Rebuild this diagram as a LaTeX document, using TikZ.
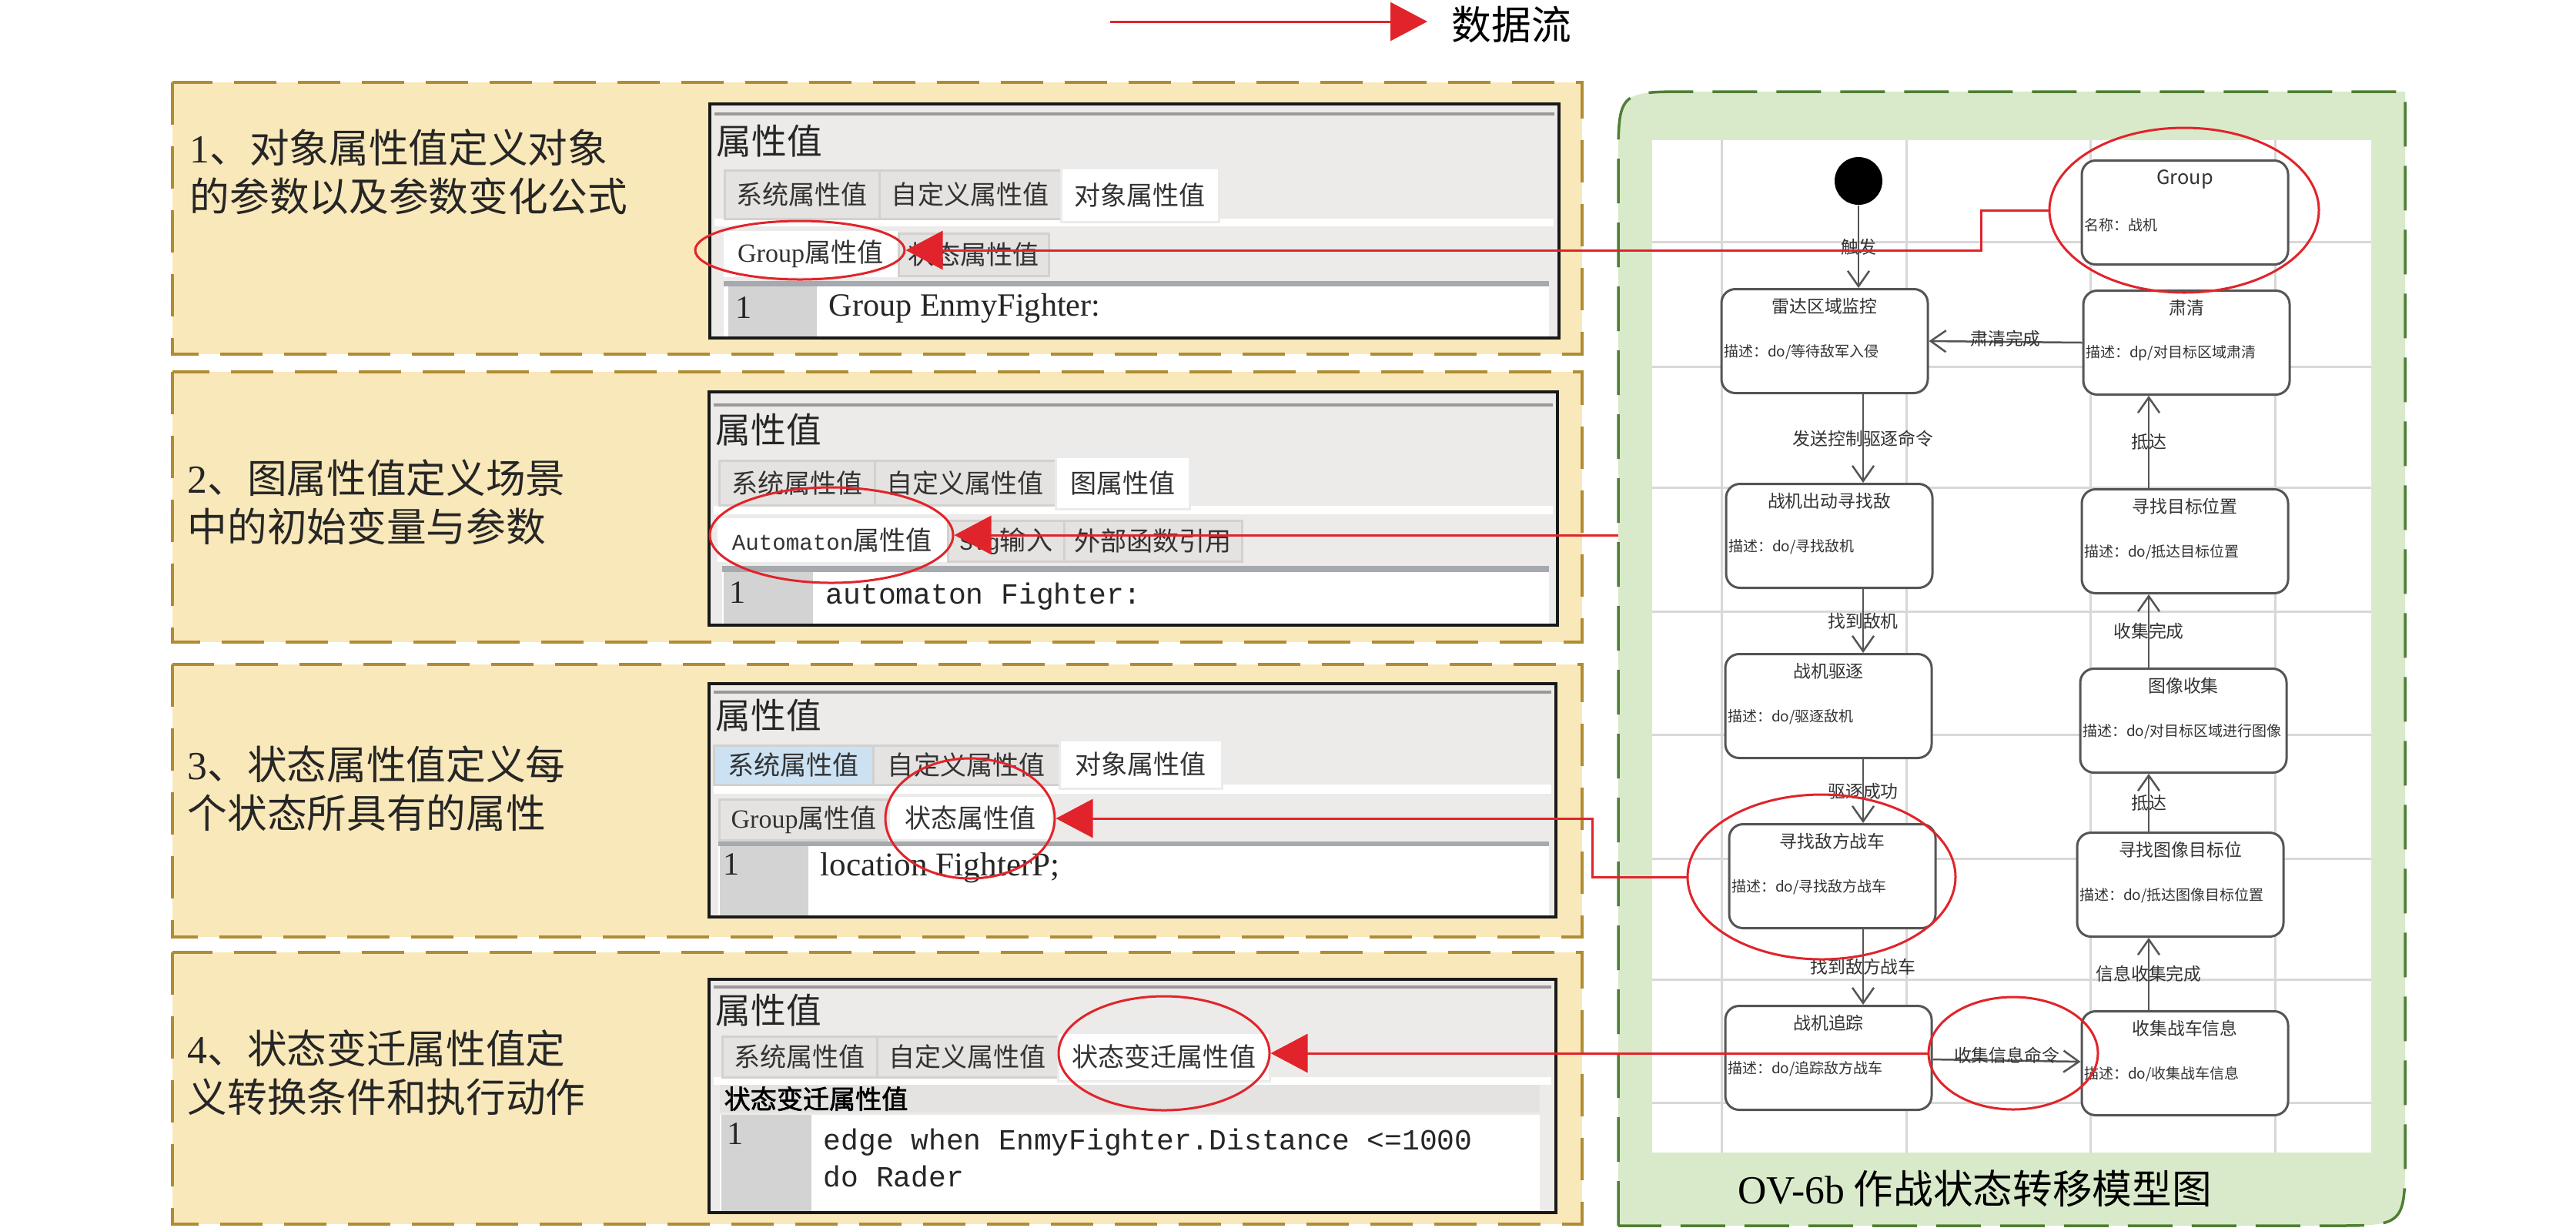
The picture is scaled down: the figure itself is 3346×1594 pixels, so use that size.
\documentclass[tikz,border=0pt]{standalone}
\usepackage{fontspec}
\setmainfont{Noto Sans CJK SC}
\newfontfamily\tms{Liberation Serif}
\newfontfamily\mono{Liberation Mono}
\newfontfamily\zhbold[FakeBold=2]{Noto Sans CJK SC}
\usetikzlibrary{positioning,arrows.meta,shapes.geometric}

\definecolor{wheat}{HTML}{F9E8B9}
\definecolor{wheatline}{HTML}{B08C33}
\definecolor{ovfill}{HTML}{D9EACB}
\definecolor{ovline}{HTML}{4F7F35}
\definecolor{flowred}{HTML}{E1242B}
\definecolor{shotbg}{HTML}{ECEBE9}
\definecolor{tabbg}{HTML}{E4E3E1}
\definecolor{tabline}{HTML}{D2D1CF}
\definecolor{hover}{HTML}{CCE2F3}
\definecolor{gutter}{HTML}{D3D3D3}
\definecolor{codebar}{HTML}{A6A9AE}
\definecolor{stline}{HTML}{555555}
\definecolor{gridline}{HTML}{D8D8D8}

\begin{document}
\begin{tikzpicture}[x=0.1mm,y=-0.1mm,
  panel/.style={fill=wheat,draw=wheatline,line width=0.35mm,dash pattern=on 5.5mm off 2.8mm},
  big/.style={font=\fontsize{14.7}{18}\selectfont,align=left,anchor=west,inner sep=0,text=black!85},
  shot/.style={fill=shotbg,draw=black!90,line width=0.4mm},
  topline/.style={draw=black!40,line width=0.4mm},
  head/.style={font=\fontsize{13}{15}\selectfont,anchor=west,inner sep=0,text=black!85},
  tab/.style={draw=tabline,fill=tabbg,line width=0.25mm,inner sep=0,anchor=north west,
    font=\fontsize{9.7}{11}\selectfont,text=black!80},
  seltab/.style={tab,fill=white,draw=black!8},
  lineno/.style={font=\tms\fontsize{12}{14}\selectfont,inner sep=0,text=black!85},
  code/.style={anchor=west,inner sep=0,align=left,text=black!85},
  ring/.style={ellipse,draw=flowred,line width=0.3mm,inner sep=0},
  flow/.style={draw=flowred,line width=0.3mm,-{Triangle[length=4.8mm,width=5mm]}},
  state/.style={draw=stline,line width=0.3mm,rounded corners=1.8mm,fill=white,
    minimum width=26.8mm,minimum height=13.5mm,inner sep=0},
  ttl/.style={font=\fontsize{6.5}{7}\selectfont,inner sep=0,text=black!80},
  dsc/.style={font=\fontsize{5.4}{6}\selectfont,anchor=west,inner sep=0,text=black!80},
  tr/.style={draw=stline,line width=0.25mm,-{Straight Barb[length=2mm,width=2.8mm]}},
  lbl/.style={font=\fontsize{6.5}{7}\selectfont,inner sep=0,text=black!80},
  grid/.style={draw=gridline,line width=0.3mm}]

\useasboundingbox (0,0) rectangle (3346,1594);

% legend
\node[font=\fontsize{14.7}{18}\selectfont,inner sep=0,anchor=west] (lgt) at (1885,32) {数据流};
\coordinate (lgs) at (1442,28);
\draw[flow] (lgs) -- ([xshift=-3.1mm]lgt.west |- lgs);

% the four wheat panels
\draw[panel] (224,107) rectangle (2055,460);
\draw[panel] (224,483) rectangle (2055,834);
\draw[panel] (224,863) rectangle (2055,1217);
\draw[panel] (224,1237) rectangle (2055,1590);

\node[big] (txt1) at (246,223) {{\tms 1}、对象属性值定义对象\\的参数以及参数变化公式};
\node[big] (txt2) at (243,652) {{\tms 2}、图属性值定义场景\\中的初始变量与参数};
\node[big] (txt3) at (243,1024) {{\tms 3}、状态属性值定义每\\个状态所具有的属性};
\node[big] (txt4) at (243,1393) {{\tms 4}、状态变迁属性值定\\义转换条件和执行动作};

% screenshot 1
\draw[shot] (922,135) rectangle (2025,439);
\draw[topline] (928,148) -- (2019,148);
\node[head] (h1) at (930,183) {属性值};
\fill[white] (928,284) rectangle (2018,294);
\node[tab,minimum width=20.1mm,minimum height=6.3mm] (t11) at (940,220) {系统属性值};
\node[tab,minimum width=23.6mm,minimum height=6.3mm] (t12) at (1141,220) {自定义属性值};
\node[seltab,minimum width=20.5mm,minimum height=7mm] (t13) at (1377,217) {对象属性值};
\node[seltab,minimum width=22.9mm,minimum height=6.3mm] (s11) at (937,297) {{\tms Group}属性值};
\node[tab,minimum width=19.5mm,minimum height=5.5mm] (s12) at (1166,302) {状态属性值};
\fill[codebar] (940,365) rectangle (2012,372);
\fill[white] (940,372) rectangle (2012,437);
\fill[gutter] (946,372) rectangle (1061,437);
\node[lineno] (n1) at (966,400) {1};
\node[code,font=\tms\fontsize{12}{14}\selectfont] (c1) at (1076,400) {Group EnmyFighter:};

% screenshot 2
\draw[shot] (921,509) rectangle (2023,812);
\draw[topline] (927,526) -- (2017,526);
\node[head] (h2) at (929,558) {属性值};
\fill[white] (927,657) rectangle (2017,668);
\node[tab,minimum width=20.2mm,minimum height=5.8mm] (t21) at (933,597) {系统属性值};
\node[tab,minimum width=23.5mm,minimum height=5.8mm] (t22) at (1135,597) {自定义属性值};
\node[seltab,minimum width=17.4mm,minimum height=6.8mm] (t23) at (1370,592) {图属性值};
\node[seltab,minimum width=30.1mm,minimum height=6mm] (s21) at (929,670) {{\mono\fontsize{8.3}{10}\selectfont Automaton}属性值};
\node[tab,minimum width=15.1mm,minimum height=5.3mm] (s22) at (1230,675) {{\mono\fontsize{8.3}{10}\selectfont Svg}输入};
\node[tab,minimum width=23.1mm,minimum height=5.3mm] (s23) at (1381,675) {外部函数引用};
\fill[codebar] (938,735) rectangle (2012,743);
\fill[white] (938,743) rectangle (2012,810);
\fill[gutter] (940,743) rectangle (1056,810);
\node[lineno] (n2) at (958,770) {1};
\node[code,font=\mono\fontsize{10.8}{13}\selectfont] (c2) at (1072,775) {automaton Fighter:};

% screenshot 3
\draw[shot] (921,888) rectangle (2021,1191);
\draw[topline] (927,899) -- (2015,899);
\node[head] (h3) at (929,929) {属性值};
\fill[white] (927,1019) rectangle (2015,1031);
\node[tab,fill=hover,minimum width=20.7mm,minimum height=5.1mm] (t31) at (926,967) {系统属性值};
\node[tab,minimum width=24.2mm,minimum height=5.1mm] (t32) at (1133,967) {自定义属性值};
\node[seltab,minimum width=21.1mm,minimum height=6.3mm] (t33) at (1375,960) {对象属性值};
\node[tab,minimum width=22mm,minimum height=5.3mm] (s31) at (933,1037) {{\tms Group}属性值};
\node[seltab,minimum width=21.3mm,minimum height=5.8mm] (s32) at (1153,1032) {状态属性值};
\fill[codebar] (933,1093) rectangle (2012,1099);
\fill[white] (933,1099) rectangle (2012,1189);
\fill[gutter] (935,1099) rectangle (1050,1189);
\node[lineno] (n3) at (950,1123) {1};
\node[code,font=\tms\fontsize{12.3}{14}\selectfont] (c3) at (1065,1127) {location FighterP;};

% screenshot 4
\draw[shot] (921,1272) rectangle (2021,1575);
\draw[topline] (927,1282) -- (2015,1282);
\node[head] (h4) at (929,1312) {属性值};
\fill[white] (927,1399) rectangle (2015,1409);
\node[tab,minimum width=20.1mm,minimum height=5.3mm] (t41) at (937,1345) {系统属性值};
\node[tab,minimum width=23.5mm,minimum height=5.3mm] (t42) at (1138,1345) {自定义属性值};
\node[seltab,minimum width=27.5mm,minimum height=6.3mm] (t43) at (1373,1340) {状态变迁属性值};
\fill[tabbg] (935,1409) rectangle (2000,1445);
\node[anchor=west,inner sep=0,font=\zhbold\fontsize{9.7}{11}\selectfont] (hd4) at (940,1427) {状态变迁属性值};
\fill[white] (935,1448) rectangle (2000,1573);
\fill[gutter] (937,1448) rectangle (1054,1573);
\node[lineno] (n4) at (955,1473) {1};
\node[code,font=\mono\fontsize{10.8}{13.4}\selectfont] (c4) at (1069,1504) {edge when EnmyFighter.Distance <=1000\\do Rader};

% OV-6b box
\draw[ovline,fill=ovfill,line width=0.35mm,dash pattern=on 5.8mm off 2.5mm]
  (2102,1592) -- (2102,212) .. controls (2102,119) .. (2195,119) -- (3124,119)
  -- (3124,1497) .. controls (3124,1592) .. (3029,1592) -- cycle;
\coordinate (ovedge) at (2102,0);
\fill[white] (2146,182) rectangle (3080,1497);
\foreach \gx in {2236,2476,2715,2955}
  \draw[grid] (\gx,182) -- (\gx,1497);
\foreach \gy in {314,476,633,794,954,1115,1272,1432}
  \draw[grid] (2146,\gy) -- (3080,\gy);
\node[font=\fontsize{14.7}{18}\selectfont,inner sep=0] (cap) at (2565,1544) {{\tms OV-6b} 作战状态转移模型图};

% states
\node[circle,fill=black,minimum size=6.2mm,inner sep=0] (init) at (2414,235) {};
\node[state] (radar) at (2370,443) {};
\node[state] (sortie) at (2376,696) {};
\node[state] (expel) at (2375,917) {};
\node[state] (seek) at (2380,1138) {};
\node[state] (track) at (2375,1374) {};
\node[state] (group) at (2838,276) {};
\node[state] (clear) at (2840,445) {};
\node[state] (locate) at (2838,703) {};
\node[state] (image) at (2836,936) {};
\node[state] (imgpos) at (2832,1149) {};
\node[state] (collect) at (2838,1381) {};

\node[ttl,font=\fontsize{7.2}{8}\selectfont] at ([yshift=-2.6mm]group.north) {Group};
\node[dsc] at ([xshift=0.4mm,yshift=-1.6mm]group.west) {名称：战机};
\node[ttl] at ([yshift=-2.4mm]radar.north) {雷达区域监控};
\node[dsc] at ([xshift=0.4mm,yshift=-1.4mm]radar.west) {描述：do/等待敌军入侵};
\node[ttl] at ([yshift=-2.4mm]sortie.north) {战机出动寻找敌};
\node[dsc] at ([xshift=0.4mm,yshift=-1.4mm]sortie.west) {描述：do/寻找敌机};
\node[ttl] at ([yshift=-2.4mm]expel.north) {战机驱逐};
\node[dsc] at ([xshift=0.4mm,yshift=-1.4mm]expel.west) {描述：do/驱逐敌机};
\node[ttl] at ([yshift=-2.4mm]seek.north) {寻找敌方战车};
\node[dsc] at ([xshift=0.4mm,yshift=-1.4mm]seek.west) {描述：do/寻找敌方战车};
\node[ttl] at ([yshift=-2.4mm]track.north) {战机追踪};
\node[dsc] at ([xshift=0.4mm,yshift=-1.4mm]track.west) {描述：do/追踪敌方战车};
\node[ttl] at ([yshift=-2.4mm]clear.north) {肃清};
\node[dsc] at ([xshift=0.4mm,yshift=-1.4mm]clear.west) {描述：dp/对目标区域肃清};
\node[ttl] at ([yshift=-2.4mm]locate.north) {寻找目标位置};
\node[dsc] at ([xshift=0.4mm,yshift=-1.4mm]locate.west) {描述：do/抵达目标位置};
\node[ttl] at ([yshift=-2.4mm]image.north) {图像收集};
\node[dsc] at ([xshift=0.4mm,yshift=-1.4mm]image.west) {描述：do/对目标区域进行图像};
\node[ttl] at ([yshift=-2.4mm]imgpos.north) {寻找图像目标位};
\node[dsc] at ([xshift=0.4mm,yshift=-1.4mm]imgpos.west) {描述：do/抵达图像目标位置};
\node[ttl] at ([yshift=-2.4mm]collect.north) {收集战车信息};
\node[dsc] at ([xshift=0.4mm,yshift=-1.4mm]collect.west) {描述：do/收集战车信息};

% transitions
\coordinate (lc) at (2420,0);
\coordinate (rc) at (2791,0);
\draw[tr] (init) -- (radar.north -| init) node[lbl,midway] {触发};
\draw[tr] (radar.south -| lc) -- (sortie.north -| lc) node[lbl,midway] {发送控制驱逐命令};
\draw[tr] (sortie.south -| lc) -- (expel.north -| lc) node[lbl,midway] {找到敌机};
\draw[tr] (expel.south -| lc) -- (seek.north -| lc) node[lbl,midway] {驱逐成功};
\draw[tr] (seek.south -| lc) -- (track.north -| lc) node[lbl,midway] {找到敌方战车};
\draw[tr] (track) -- (collect) node[lbl,midway,yshift=0.7mm] {收集信息命令};
\draw[tr] (collect.north -| rc) -- (imgpos.south -| rc) node[lbl,midway] {信息收集完成};
\draw[tr] (imgpos.north -| rc) -- (image.south -| rc) node[lbl,midway] {抵达};
\draw[tr] (image.north -| rc) -- (locate.south -| rc) node[lbl,midway] {收集完成};
\draw[tr] (locate.north -| rc) -- (clear.south -| rc) node[lbl,midway] {抵达};
\draw[tr] (clear.west) -- (radar.east) node[lbl,midway,yshift=0.4mm] {肃清完成};

% red marks
\node[ring,minimum width=27.2mm,minimum height=7.6mm] (ring1) at (1039,325) {};
\node[ring,minimum width=31.6mm,minimum height=12.4mm] (ring2) at (1080,695) {};
\node[ring,minimum width=22mm,minimum height=15.6mm] (ring3) at (1260,1063) {};
\node[ring,minimum width=27.4mm,minimum height=14.8mm] (ring4) at (1512,1368) {};
\node[ring,minimum width=35mm,minimum height=21.4mm] (gpring) at (2837,273) {};
\node[ring,minimum width=34.8mm,minimum height=21.4mm] (tgring) at (2366,1139) {};
\node[ring,minimum width=22mm,minimum height=14.6mm] (lbring) at (2615,1368) {};

% data flow
\draw[flow] (gpring.west) -- ++(-87,0) |- (ring1.east);
\draw[flow] (ring2.east -| ovedge) -- (ring2.east);
\draw[flow] (tgring.west) -- ++(-122,0) |- (ring3.east);
\draw[flow] (lbring.west) -- (ring4.east);
\end{tikzpicture}
\end{document}
